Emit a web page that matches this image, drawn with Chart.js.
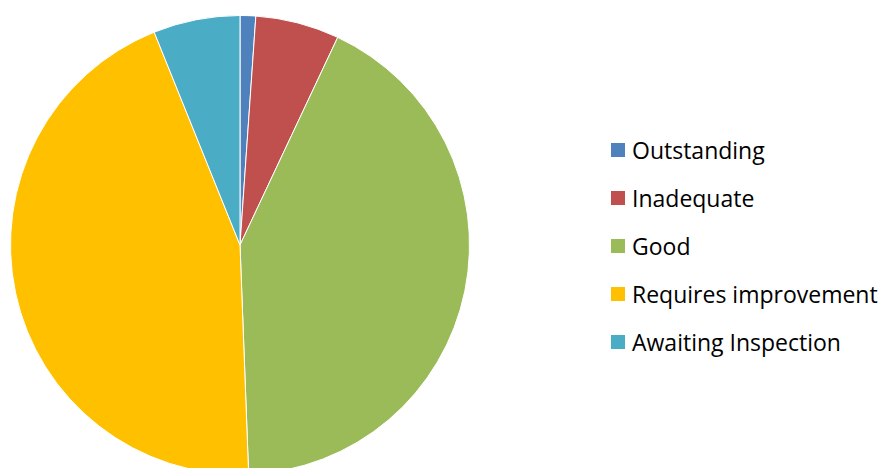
<!DOCTYPE html>
<html>
<head>
<meta charset="utf-8">
<script src="https://cdn.jsdelivr.net/npm/chart.js@4.4.1/dist/chart.umd.min.js"></script>
<style>
    html, body { margin: 0; padding: 0; background: #fff; }
    body { width: 882px; height: 468px; overflow: hidden; position: relative; }
    #pieBox { position: absolute; left: 10px; top: 15px; width: 460px; height: 460px; }
    #legend { position: absolute; left: 611px; top: 126px; font-family: "Open Sans", Lato, sans-serif; font-size: 23px; color: #000; }
    .item { display: flex; align-items: center; height: 48px; white-space: nowrap; }
    .swatch { width: 14px; height: 14px; margin-right: 7px; }
</style>
</head>
<body>
<div id="pieBox"><canvas id="chart" width="460" height="460"></canvas></div>
<div id="legend"></div>
<script>
// share of each rating (percent)
const ratings = ["Outstanding", "Inadequate", "Good", "Requires improvement", "Awaiting Inspection"]
const shares = [1.1, 5.9, 42.4, 44.5, 6.1]
const sliceColors = ["#4F81BD", "#C0504D", "#9BBB59", "#FFC000", "#4BACC6"]

const chart = new Chart(document.getElementById("chart"), {
    type: "pie",
    data: {
        labels: ratings,
        datasets: [
            {
                data: shares,
                backgroundColor: sliceColors,
                borderColor: "#ffffff",
                borderWidth: 1,
                hoverOffset: 0
            }
        ]
    },
    options: {
        responsive: false,
        animation: false,
        layout: { padding: 0 },
        plugins: {
            legend: { display: false },
            tooltip: { enabled: false }
        }
    }
})

// legend built from the chart's own labels
const legend = document.getElementById("legend")
chart.options.plugins.legend.labels.generateLabels(chart).forEach(item => {
    const row = document.createElement("div")
    row.className = "item"
    const box = document.createElement("span")
    box.className = "swatch"
    box.style.background = item.fillStyle
    row.appendChild(box)
    row.appendChild(document.createTextNode(item.text))
    legend.appendChild(row)
})
</script>
</body>
</html>
